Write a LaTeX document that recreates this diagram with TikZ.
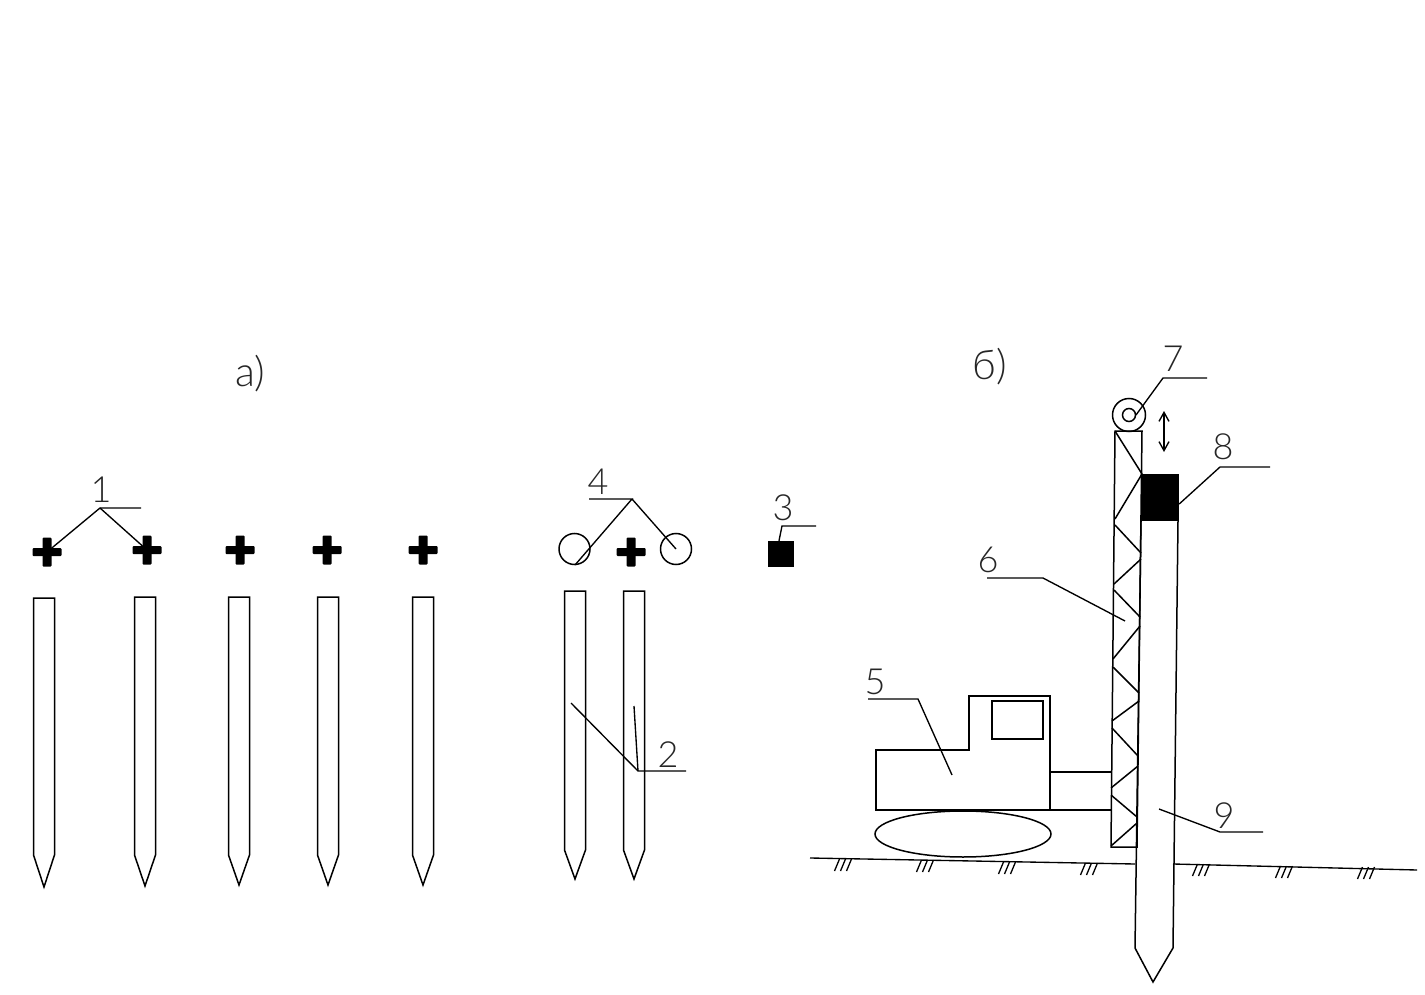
\documentclass[tikz,border=0pt]{standalone}
\usepackage{fontspec}
\setmainfont{Lato Light}
\usetikzlibrary{arrows.meta}
\tikzset{
  ln/.style={draw=black,line width=1.5pt,line join=miter},
  thin ln/.style={draw=black,line width=1.35pt},
  lbl/.style={font=\fontsize{36}{36}\selectfont,text=black!85,inner sep=0pt,anchor=center},
  bigl/.style={lbl,font=\fontsize{41}{41}\selectfont},
  solid blk/.style={fill=black,draw=none}
}
% pile: name, left x, right x, top y, shoulder y, tip y
\newcommand{\pilebody}[6]{%
  \draw[ln] (#2,#4) -- (#3,#4) -- (#3,#5) -- ({(#2+#3)/2},#6) -- (#2,#5) -- cycle;
  \coordinate (#1) at ({(#2+#3)/2},#4);
}
% cross: name, cx, cy
\newcommand{\plusmark}[3]{%
  \fill[rounded corners=1pt] (#2-14.5,#3-4) rectangle (#2+14.5,#3+4);
  \fill[rounded corners=1pt] (#2-4.5,#3-14.5) rectangle (#2+4.5,#3+14.5);
  \coordinate (#1) at (#2,#3);
}
% three ground ticks centred at x,y
\newcommand{\gtick}[2]{%
  \foreach \d in {-6,0,6}
    \draw[thin ln,line width=1.3pt] (#1+\d+2.5,#2-6) -- (#1+\d-2.5,#2+6);
}
\begin{document}
\begin{tikzpicture}[x=1pt,y=-1pt]
\useasboundingbox[fill=white] (0,0) rectangle (1425,995);

% --- part a: piles
\pilebody{p1}{33.5}{54.5}{598}{855}{887}
\pilebody{p2}{134.5}{155.5}{597}{855}{886}
\pilebody{p3}{228.5}{249.5}{597}{855}{885}
\pilebody{p4}{317.5}{338.5}{597}{855}{885}
\pilebody{p5}{412.5}{433.5}{597}{855}{885}
\pilebody{p6}{564.5}{585.5}{591}{850}{879}
\pilebody{p7}{623.5}{644.5}{591}{850}{879}

% --- part a: marks
\plusmark{c1}{47}{552}
\plusmark{c2}{147}{550}
\plusmark{c3}{240}{550}
\plusmark{c4}{327}{550}
\plusmark{c5}{423}{550}
\plusmark{c6}{631}{552}
\node[circle,draw,line width=1.5pt,minimum size=31pt,inner sep=0pt] (h1) at (574.5,549) {};
\node[circle,draw,line width=1.5pt,minimum size=31pt,inner sep=0pt] (h2) at (676,549) {};
\node[solid blk,minimum size=26pt,inner sep=0pt] (sq) at (781,554) {};

% --- part a: labels and leaders
\node[bigl] (ta) at (250,374) {а)};
\node[lbl] (t1) at (101,490) {1};
\node[lbl] (t2) at (668,755) {2};
\node[lbl] (t3) at (783,508) {3};
\node[lbl] (t4) at (598,482) {4};
\coordinate (k1) at (100,508);
\draw[thin ln] (141,508) -- (k1) -- (c1);
\draw[thin ln] (k1) -- (c2);
\coordinate (k2) at (638,771);
\coordinate (e2a) at (571,703);
\coordinate (e2b) at (634,706);
\draw[thin ln] (686,771) -- (k2) -- (e2a);
\draw[thin ln] (k2) -- (e2b);
\coordinate (k3) at (782,526);
\draw[thin ln] (816,526) -- (k3) -- (sq.north west -| 779,541);
\coordinate (k4) at (632,499);
\coordinate (e4a) at (575,565);
\draw[thin ln] (589,499) -- (k4) -- (e4a);
\draw[thin ln] (k4) -- (h2.center);

% --- part b: ground
\draw[thin ln] (810,858) -- (1135,864);
\draw[thin ln] (1173,864) -- (1417,870);
\gtick{843}{865}
\gtick{925}{866}
\gtick{1007}{868}
\gtick{1089}{869}
\gtick{1201}{870}
\gtick{1284}{872}
\gtick{1366}{873}

% --- part b: machine
\draw[ln] (876,750) -- (969,750) -- (969,696) -- (1050,696) -- (1050,810) -- (876,810) -- cycle;
\draw[ln] (992,701) rectangle (1043,739);
\draw[ln] (1050,772) -- (1111,772);
\draw[ln] (1050,810) -- (1111,810);
\draw[ln] (963,834) ellipse [x radius=88,y radius=23];

% --- part b: mast
\draw[ln] (1115,431) -- (1142,431) -- (1137,847) -- (1111,847) -- cycle;
\draw[ln] (1115,431) -- (1142,474) -- (1115,519);
\draw[ln] (1115,525) -- (1141,553);
\draw[ln] (1141,559) -- (1114,584);
\draw[ln] (1114,590) -- (1140,617);
\draw[ln] (1140,626) -- (1113,659);
\draw[ln] (1113,667) -- (1139,693);
\draw[ln] (1139,701) -- (1112,721);
\draw[ln] (1112,728) -- (1138,756);
\draw[ln] (1138,766) -- (1111,788);
\draw[ln] (1111,795) -- (1137,817);
\draw[ln] (1137,823) -- (1111,846);

% --- part b: wheel
\node[circle,draw,line width=1.5pt,minimum size=33pt,inner sep=0pt] (w) at (1129,415) {};
\node[circle,draw,line width=1.5pt,minimum size=13pt,inner sep=0pt] (wi) at (1129,415) {};

% --- part b: long pile and hammer
\draw[ln] (1141,521) -- (1135,948) -- (1153,982) -- (1173,948) -- (1178,521);
\node[solid blk,minimum width=38pt,minimum height=47pt,inner sep=0pt] (hm) at (1160,497.5) {};
\coordinate (au) at (1164,411);
\coordinate (ad) at (1164,452);
\draw[thin ln,{Straight Barb[length=9pt,width=10pt]}-{Straight Barb[length=9pt,width=10pt]}] (au) -- (ad);

% --- part b: labels and leaders
\node[bigl] (tb) at (990,367) {б)};
\node[lbl] (t5) at (875,682) {5};
\node[lbl] (t6) at (988,560) {6};
\node[lbl] (t7) at (1173,359) {7};
\node[lbl] (t8) at (1223,447) {8};
\node[lbl] (t9) at (1224,816) {9};
\coordinate (k5) at (918,699);
\coordinate (e5) at (952,775);
\draw[thin ln] (868,699) -- (k5) -- (e5);
\coordinate (k6) at (1043,578);
\coordinate (e6) at (1125,621);
\draw[thin ln] (987,578) -- (k6) -- (e6);
\coordinate (k7) at (1163,378);
\draw[thin ln] (1207,378) -- (k7) -- (1136,415);
\coordinate (k8) at (1220,467);
\draw[thin ln] (1270,467) -- (k8) -- (hm.east |- 0,504);
\coordinate (k9) at (1220,832);
\coordinate (e9) at (1159,809);
\draw[thin ln] (1263,832) -- (k9) -- (e9);
\end{tikzpicture}
\end{document}
